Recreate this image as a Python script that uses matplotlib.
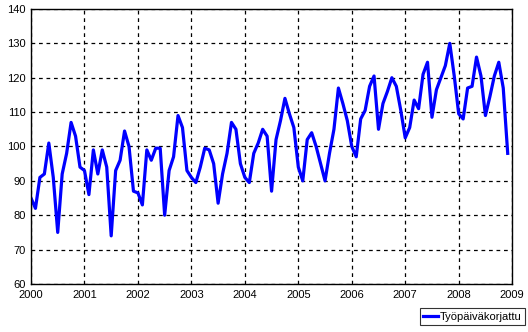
import numpy as np
import matplotlib
matplotlib.use('Agg')
import matplotlib.pyplot as plt

# kuukausiarvot vuosittain (tammi..joulu)
v2000 = [85, 82, 91, 92, 101, 91, 75, 92, 98, 107, 103, 94]
v2001 = [93, 86, 99, 92, 99, 94, 74, 93, 96, 104.5, 100, 87]
v2002 = [86.5, 83, 99, 96, 99.5, 99.5, 80, 93, 97, 109, 105.5, 93]
v2003 = [91, 89.5, 94, 99.5, 99, 95, 83.5, 92, 98, 107, 105, 95]
v2004 = [91, 89.5, 98, 101, 105, 103, 87, 102, 107.5, 114, 109.5, 105.5]
v2005 = [94, 90, 102, 104, 100, 95, 90, 98, 105, 117, 112.5, 107.5]
v2006 = [100, 97, 108, 110.5, 117.5, 120.5, 105, 112.5, 116, 120, 117.5, 110.5]
v2007 = [102.5, 105.5, 113.5, 111, 121, 124.5, 108.5, 116.5, 120, 123.5, 130, 120.5]
v2008 = [109.5, 108, 117, 117.5, 126, 120.5, 109, 114.5, 120.5, 124.5, 117, 98]

years = list(range(2000, 2010))
yticks = list(range(60, 141, 10))
label = 'Työpäiväkorjattu'

values = v2000 + v2001 + v2002 + v2003 + v2004 + v2005 + v2006 + v2007 + v2008
x = 2000 + np.arange(len(values)) / 12

plt.rcParams['font.family'] = ['Liberation Sans', 'DejaVu Sans']

fig = plt.figure(figsize=(5.28, 3.32), dpi=100)
ax = fig.add_axes([0.0587, 0.1446, 0.9113, 0.8284])

ax.plot(x, values, color='#0000ff', lw=2.3, label=label)

ax.set_xlim(2000, 2009)
ax.set_ylim(60, 140)
ax.set_xticks(years)
ax.set_yticks(yticks)
ax.tick_params(length=0, labelsize=8, pad=4)
ax.grid(True, color='black', linestyle=(0, (3, 3)), linewidth=0.9)
for s in ax.spines.values():
    s.set_linewidth(1.0)

leg = ax.legend(loc='upper right', bbox_to_anchor=(1.027, -0.088), fontsize=8,
                frameon=True, fancybox=False, edgecolor='black',
                handlelength=1.3, handletextpad=0.2, borderpad=0.3,
                borderaxespad=0)
leg.get_frame().set_linewidth(0.8)

fig.savefig('out.png', dpi=100)
